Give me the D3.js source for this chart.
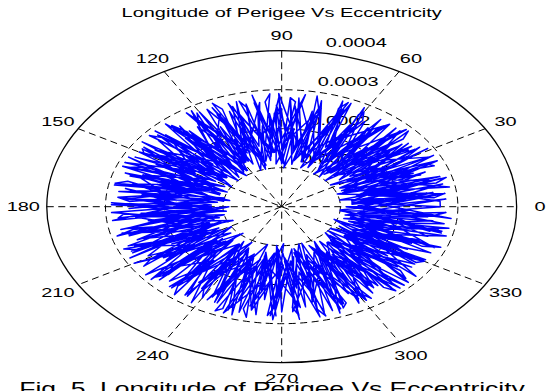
<!DOCTYPE html>
<html>
<head>
<meta charset="utf-8">
<script src="https://cdn.jsdelivr.net/npm/d3@7"></script>
<style>
  body { margin: 0; background: #fff; }
  text { font-family: Arial, "Liberation Sans", Helvetica, sans-serif; fill: #000; }
</style>
</head>
<body>
<svg id="chart" width="546" height="391"></svg>
<script>
// eccentricity in units of 1e-4, longitude of perigee in degrees
const ringTicks = [1, 2, 3, 4]
const ringLabels = ['0.0001', '0.0002', '0.0003', '0.0004']
const angleTicks = [0, 30, 60, 90, 120, 150, 180, 210, 240, 270, 300, 330]
const spokeAngles = [30, 60, 90, 120, 150, 180]

const lonLap1 = [0, 5, 8, 14, 16, 22, 25, 31, 35, 39, 44, 47, 53, 56, 60, 66, 68, 74, 78, 81,
  87, 90, 95, 99, 103, 108, 110, 116, 120, 123, 129, 132, 137, 141, 145, 150, 153, 158, 162, 166,
  171, 174, 179, 183, 186, 192, 195, 200, 204, 207, 213, 216, 221, 225, 228, 234, 237, 242, 246, 249,
  255, 258, 263, 267, 270, 276, 279, 284, 288, 291, 297, 300, 305, 309, 312, 318, 321, 326, 330, 333,
  339, 342, 347, 351, 354, 360]
const eccLap1 = [2.7, 1.2, 2.5, 1.4, 2.8, 1.1, 2.4, 1.3, 2.7, 1.5, 2.6, 1.2, 2.8, 1.4, 2.3, 1.2, 2.7, 1.5, 2.5, 1.1,
  2.8, 1.3, 2.4, 1.2, 2.7, 1.5, 2.6, 1.3, 2.8, 1.1, 2.5, 1.4, 2.7, 1.2, 2.9, 1.3, 2.4, 1.0, 2.8, 1.5,
  2.6, 1.1, 2.9, 1.3, 2.5, 1.0, 2.7, 1.4, 2.8, 1.2, 2.4, 1.5, 2.7, 1.1, 2.8, 1.3, 2.5, 1.2, 2.7, 1.6,
  2.8, 1.3, 2.4, 1.1, 2.7, 1.4, 2.6, 1.2, 2.8, 1.5, 2.5, 1.2, 2.7, 1.4, 2.8, 1.1, 2.4, 1.3, 2.7, 1.5,
  2.6, 1.2, 2.8, 1.4, 2.5, 1.1]

const lonLap2 = [2, 7, 11, 15, 20, 24, 28, 33, 36, 41, 45, 49, 54, 57, 62, 66, 70, 75, 78, 83,
  87, 91, 96, 99, 104, 108, 112, 117, 120, 125, 129, 133, 138, 141, 146, 150, 154, 159, 162, 167,
  171, 175, 180, 183, 188, 192, 196, 201, 204, 209, 213, 217, 222, 225, 230, 234, 238, 243, 246, 251,
  255, 259, 264, 267, 272, 276, 280, 285, 288, 293, 297, 301, 306, 309, 314, 318, 322, 327, 330, 335,
  339, 343, 348, 351, 356, 360]
const eccLap2 = [1.8, 2.8, 1.7, 2.6, 2.0, 2.9, 1.6, 2.7, 1.9, 2.5, 1.7, 2.8, 2.0, 2.6, 1.6, 2.9, 1.8, 2.5, 2.1, 2.7,
  1.7, 2.8, 1.9, 2.6, 1.6, 2.7, 2.0, 2.8, 1.7, 2.5, 1.9, 2.9, 1.6, 2.7, 2.0, 2.8, 1.7, 2.9, 1.8, 2.6,
  2.0, 2.8, 1.6, 2.9, 1.9, 2.7, 1.7, 2.8, 2.1, 2.6, 1.8, 2.9, 1.6, 2.7, 2.0, 2.8, 1.7, 2.6, 1.9, 2.8,
  1.6, 2.7, 2.0, 2.9, 1.8, 2.6, 1.7, 2.8, 2.0, 2.7, 1.6, 2.8, 1.9, 2.6, 1.7, 2.9, 2.0, 2.7, 1.8, 2.8,
  1.6, 2.6, 2.0, 2.8, 1.7, 2.7]

const lonLap3 = [3, 6, 10, 13, 18, 21, 26, 29, 34, 37, 42, 45, 50, 53, 58, 61, 66, 69, 74, 77,
  82, 85, 90, 93, 98, 101, 106, 109, 114, 117, 122, 125, 130, 133, 138, 141, 146, 149, 154, 157,
  162, 165, 170, 173, 178, 181, 186, 189, 194, 197, 202, 205, 210, 213, 218, 221, 226, 229, 234, 237,
  242, 245, 250, 253, 258, 261, 266, 269, 274, 277, 282, 285, 290, 293, 298, 301, 306, 309, 314, 317,
  322, 325, 330, 333, 338, 341, 346, 349, 354, 357]
const eccLap3 = [1.2, 2.2, 1.0, 2.0, 1.3, 2.4, 1.1, 2.1, 1.4, 2.3, 1.0, 2.2, 1.2, 1.9, 1.3, 2.4, 1.1, 2.0, 1.2, 2.3,
  1.4, 2.1, 1.1, 2.4, 1.3, 2.0, 1.0, 2.2, 1.2, 2.3, 1.1, 2.0, 1.3, 2.4, 1.0, 2.1, 1.2, 2.3, 1.4, 1.9,
  1.1, 2.2, 0.9, 2.4, 1.2, 2.0, 1.0, 2.3, 1.3, 2.1, 1.1, 2.4, 1.2, 2.0, 1.4, 2.2, 1.5, 2.3, 1.3, 2.1,
  1.2, 2.4, 1.4, 2.0, 1.3, 2.2, 1.1, 2.3, 1.4, 2.1, 1.2, 2.0, 1.0, 2.4, 1.3, 2.2, 1.1, 2.1, 1.2, 2.3,
  1.0, 2.2, 1.3, 2.4, 1.1, 2.0, 1.2, 2.3, 1.0, 2.1]

const lonLap4 = [1, 7, 5, 11, 15, 13, 19, 24, 22, 28, 33, 31, 37, 42, 40, 46, 51, 49, 55, 60, 58,
  64, 69, 67, 73, 78, 76, 82, 87, 85, 91, 96, 94, 100, 105, 103, 109, 114, 112, 118, 123, 121,
  127, 132, 130, 136, 141, 139, 145, 150, 148, 154, 159, 157, 163, 168, 166, 172, 177, 175,
  181, 186, 184, 190, 195, 193, 199, 204, 202, 208, 213, 211, 217, 222, 220, 226, 231, 229,
  235, 240, 238, 244, 249, 247, 253, 258, 256, 262, 267, 265, 271, 276, 274, 280, 285, 283,
  289, 294, 292, 298, 303, 301, 307, 312, 310, 316, 321, 319, 325, 330, 328, 334, 339, 337,
  343, 348, 346, 352, 357, 355, 360]
const eccLap4 = [1.3, 2.8, 2.6, 1.5, 2.9, 2.7, 1.2, 2.7, 2.8, 1.6, 2.8, 2.5, 1.4, 2.9, 2.7, 1.2, 2.6, 2.8, 1.5, 2.8, 2.6,
  1.7, 2.7, 2.9, 1.3, 2.9, 2.6, 1.5, 2.8, 2.7, 1.2, 2.7, 2.9, 1.6, 2.8, 2.6, 1.4, 2.9, 2.7, 1.3, 2.6, 2.8,
  1.5, 2.8, 2.5, 1.2, 2.9, 2.7, 1.6, 2.7, 2.8, 1.3, 2.8, 2.6, 1.4, 2.9, 2.7, 1.7, 2.6, 2.8,
  1.2, 2.8, 2.7, 1.5, 2.9, 2.6, 1.3, 2.7, 2.9, 1.6, 2.8, 2.6, 1.4, 2.6, 2.8, 1.2, 2.9, 2.7,
  1.5, 2.7, 2.5, 1.3, 2.8, 2.9, 1.6, 2.9, 2.7, 1.4, 2.6, 2.8, 1.2, 2.8, 2.6, 1.5, 2.9, 2.7,
  1.3, 2.7, 2.8, 1.7, 2.8, 2.6, 1.4, 2.9, 2.7, 1.2, 2.6, 2.8, 1.5, 2.8, 2.7, 1.3, 2.9, 2.6,
  1.6, 2.7, 2.8, 1.4, 2.8, 2.6, 1.3]

const lonLap5 = [0, 12, 7, 20, 17, 27, 24, 37, 31, 44, 41, 52, 47, 61, 56, 67, 65, 76, 71, 85,
  80, 91, 89, 100, 95, 109, 104, 115, 113, 124, 119, 133, 128, 139, 137, 148, 143, 157, 152, 163,
  161, 172, 167, 181, 176, 187, 185, 196, 191, 205, 200, 211, 209, 220, 215, 229, 224, 235, 233, 244,
  239, 253, 248, 259, 257, 268, 263, 277, 272, 283, 281, 292, 287, 301, 296, 307, 305, 316, 311, 325,
  320, 331, 329, 340, 335, 349, 344, 355, 353, 364]
const eccLap5 = [1.4, 2.8, 1.2, 2.6, 1.5, 2.9, 1.3, 2.7, 1.6, 2.8, 1.2, 2.5, 1.4, 2.9, 1.1, 2.7, 1.5, 2.8, 1.3, 2.6,
  1.6, 2.9, 1.2, 2.7, 1.4, 2.8, 1.1, 2.6, 1.5, 2.9, 1.3, 2.7, 1.2, 2.8, 1.6, 2.5, 1.4, 2.9, 1.1, 2.7,
  1.3, 2.8, 1.0, 2.6, 1.5, 2.9, 1.2, 2.7, 1.4, 2.8, 1.1, 2.6, 1.5, 2.9, 1.3, 2.7, 1.6, 2.8, 1.2, 2.5,
  1.4, 2.9, 1.5, 2.7, 1.2, 2.8, 1.6, 2.6, 1.3, 2.9, 1.1, 2.7, 1.4, 2.8, 1.2, 2.6, 1.5, 2.9, 1.3, 2.7,
  1.6, 2.8, 1.2, 2.5, 1.4, 2.9, 1.1, 2.7, 1.3, 2.8]

const lonLap6 = [3, 15, 10, 23, 19, 30, 27, 40, 34, 47, 43, 55, 50, 63, 58, 71, 66, 78, 75, 87,
  82, 95, 90, 102, 98, 111, 106, 119, 114, 126, 122, 135, 130, 143, 138, 150, 147, 159, 154, 167,
  162, 175, 170, 182, 178, 191, 186, 199, 194, 206, 202, 215, 210, 223, 218, 230, 227, 239, 234, 247,
  242, 255, 250, 262, 258, 271, 266, 279, 274, 286, 282, 295, 290, 303, 298, 310, 307, 319, 314, 327,
  322, 335, 330, 342, 338, 351, 346, 359, 354, 366]
const eccLap6 = [2.7, 1.5, 2.9, 1.7, 2.5, 1.4, 2.8, 1.8, 2.6, 1.3, 2.9, 1.6, 2.7, 1.9, 2.4, 1.5, 2.8, 1.3, 2.6, 1.7,
  2.9, 1.4, 2.5, 1.8, 2.7, 1.6, 2.8, 1.3, 2.6, 1.9, 2.9, 1.5, 2.7, 1.4, 2.5, 1.7, 2.8, 1.6, 2.9, 1.3,
  2.6, 1.8, 2.7, 1.5, 2.9, 1.2, 2.5, 1.6, 2.8, 1.4, 2.7, 1.7, 2.9, 1.3, 2.6, 1.8, 2.8, 1.5, 2.4, 1.6,
  2.7, 1.4, 2.9, 1.9, 2.6, 1.5, 2.8, 1.3, 2.7, 1.7, 2.5, 1.6, 2.9, 1.4, 2.8, 1.8, 2.6, 1.5, 2.7, 1.3,
  2.9, 1.6, 2.5, 1.4, 2.8, 1.7, 2.6, 1.5, 2.9, 1.4]

const lonLap7 = [358, 349, 352, 341, 345, 334, 337, 326, 330, 318, 322, 311, 314, 303, 307, 295, 299, 288, 291, 280,
  284, 272, 276, 265, 268, 257, 261, 249, 253, 242, 245, 234, 238, 226, 230, 219, 222, 211, 215, 203,
  207, 196, 199, 188, 192, 180, 184, 173, 176, 165, 169, 157, 161, 150, 153, 142, 146, 134, 138, 127,
  130, 119, 123, 111, 115, 104, 107, 96, 100, 88, 92, 81, 84, 73, 77, 65, 69, 58, 61, 50,
  54, 42, 46, 35, 38, 27, 31, 19, 23, 12, 15, 4, 8, -3]
const eccLap7 = [2.2, 1.1, 2.6, 1.3, 2.9, 1.6, 2.4, 1.0, 2.8, 1.4, 2.5, 1.2, 2.9, 1.5, 2.3, 1.1, 2.7, 1.6, 2.8, 1.2,
  2.4, 1.4, 2.9, 1.0, 2.6, 1.3, 2.8, 1.5, 2.3, 1.2, 2.7, 1.1, 2.9, 1.6, 2.5, 1.3, 2.8, 1.0, 2.4, 1.5,
  2.9, 1.2, 2.6, 1.4, 2.8, 0.9, 2.3, 1.3, 2.7, 1.5, 2.9, 1.1, 2.5, 1.4, 2.8, 1.2, 2.6, 1.6, 2.9, 1.0,
  2.4, 1.3, 2.7, 1.5, 2.8, 1.2, 2.5, 1.4, 2.9, 1.1, 2.6, 1.5, 2.8, 1.2, 2.4, 1.3, 2.9, 1.6, 2.7, 1.0,
  2.5, 1.4, 2.8, 1.2, 2.6, 1.5, 2.9, 1.1, 2.4, 1.3, 2.8, 1.2, 2.6, 1.4]

const lonLap8 = [355, 344, 348, 337, 340, 329, 333, 321, 325, 314, 318, 306, 310, 299, 302, 291, 295, 283, 287, 276,
  279, 268, 272, 260, 264, 253, 256, 245, 249, 237, 241, 230, 233, 222, 226, 214, 218, 207, 210, 199,
  203, 191, 195, 184, 187, 176, 180, 168, 172, 161, 164, 153, 157, 145, 149, 138, 141, 130, 134, 122,
  126, 115, 118, 107, 111, 99, 103, 92, 95, 84, 88, 76, 80, 69, 72, 61, 65, 53, 57, 46,
  49, 38, 42, 30, 34, 23, 26, 15, 19, 7]
const eccLap8 = [1.0, 2.1, 1.2, 2.4, 0.95, 1.9, 1.1, 2.3, 1.3, 2.0, 1.0, 2.5, 1.2, 1.8, 1.05, 2.2, 1.3, 2.4, 1.0, 2.0,
  1.1, 2.3, 0.95, 2.1, 1.2, 2.5, 1.0, 1.9, 1.3, 2.2, 1.05, 2.4, 1.2, 2.0, 0.95, 2.3, 1.1, 2.1, 1.3, 2.5,
  0.9, 2.0, 1.1, 2.4, 0.95, 2.2, 1.2, 1.9, 1.0, 2.3, 1.1, 2.1, 1.3, 2.5, 1.0, 2.0, 1.2, 2.4, 1.05, 2.2,
  1.1, 1.9, 1.3, 2.3, 1.0, 2.1, 1.2, 2.5, 1.1, 2.0, 1.0, 2.4, 1.2, 2.2, 1.05, 1.9, 1.3, 2.3, 1.0, 2.1,
  1.1, 2.5, 1.2, 2.0, 1.0, 2.4, 1.1, 2.2, 1.0, 2.3]

const W = 546, H = 391
const cx = 281.7, cy = 206.7
const R = 156      // vertical radius of the outer ring
const sx = 1.506   // the figure is stretched horizontally
const textScale = 1.5

const svg = d3.select('#chart')
svg.append('rect').attr('width', W).attr('height', H).attr('fill', '#fff')

const r = d3.scaleLinear().domain([0, 4]).range([0, R])
const rad = d3.scaleLinear().domain([0, 360]).range([0, 2 * Math.PI])
const px = (lon, e) => cx + sx * r(e) * Math.cos(rad(lon))
const py = (lon, e) => cy - r(e) * Math.sin(rad(lon))

// outer boundary, solid
svg.append('ellipse')
  .attr('cx', cx).attr('cy', cy)
  .attr('rx', sx * r(4)).attr('ry', r(4))
  .attr('fill', 'none')
  .attr('stroke', '#000')
  .attr('stroke-width', 1.3)

// dashed rings
svg.selectAll('.ring')
  .data(ringTicks.slice(0, -1))
  .enter()
  .append('ellipse')
  .attr('class', 'ring')
  .attr('cx', cx).attr('cy', cy)
  .attr('rx', d => sx * r(d)).attr('ry', d => r(d))
  .attr('fill', 'none')
  .attr('stroke', '#000')
  .attr('stroke-width', 1)
  .attr('stroke-dasharray', '7,4.5')

// dashed spokes through the centre
svg.selectAll('.spoke')
  .data(spokeAngles)
  .enter()
  .append('line')
  .attr('class', 'spoke')
  .attr('x1', d => px(d, 4)).attr('y1', d => py(d, 4))
  .attr('x2', d => px(d + 180, 4)).attr('y2', d => py(d + 180, 4))
  .attr('stroke', '#000')
  .attr('stroke-width', 1)
  .attr('stroke-dasharray', '7,4.5')

// ring labels at 82 degrees
svg.selectAll('.ringLabel')
  .data(ringTicks)
  .enter()
  .append('text')
  .attr('class', 'ringLabel')
  .attr('transform', d => {
    const x = px(82, d + 0.05) + 11
    const y = py(82, d + 0.05) - 3
    return `translate(${x},${y}) scale(${textScale},1)`
  })
  .style('font-size', '13.3px')
  .text((d, i) => ringLabels[i])

// data trace
const lon = lonLap1.concat(lonLap5, lonLap8, lonLap2, lonLap6, lonLap3, lonLap7, lonLap4)
const ecc = eccLap1.concat(eccLap5, eccLap8, eccLap2, eccLap6, eccLap3, eccLap7, eccLap4)
const pts = lon.map((l, i) => [l, ecc[i]])

const trace = d3.line()
  .x(d => px(d[0], d[1]))
  .y(d => py(d[0], d[1]))

svg.append('path')
  .datum(pts)
  .attr('d', trace)
  .attr('fill', 'none')
  .attr('stroke', '#0000ff')
  .attr('stroke-width', 1.5)
  .attr('stroke-linejoin', 'round')

// angle labels
svg.selectAll('.angLabel')
  .data(angleTicks)
  .enter()
  .append('text')
  .attr('class', 'angLabel')
  .attr('transform', d => `translate(${px(d, 4.4)},${py(d, 4.4)}) scale(${textScale},1)`)
  .attr('text-anchor', 'middle')
  .attr('dy', '0.36em')
  .style('font-size', '13.3px')
  .text(d => d)

// title
svg.append('text')
  .attr('transform', `translate(${cx},16.5) scale(${textScale},1)`)
  .attr('text-anchor', 'middle')
  .style('font-size', '13.3px')
  .text('Longitude of Perigee Vs Eccentricity')

// figure caption, cut by the bottom edge
svg.append('text')
  .attr('transform', `translate(19.3,395) scale(${textScale},1)`)
  .attr('textLength', 337)
  .attr('lengthAdjust', 'spacing')
  .style('font-size', '17.7px')
  .text('Fig. 5. Longitude of Perigee Vs Eccentricity')
</script>
</body>
</html>
